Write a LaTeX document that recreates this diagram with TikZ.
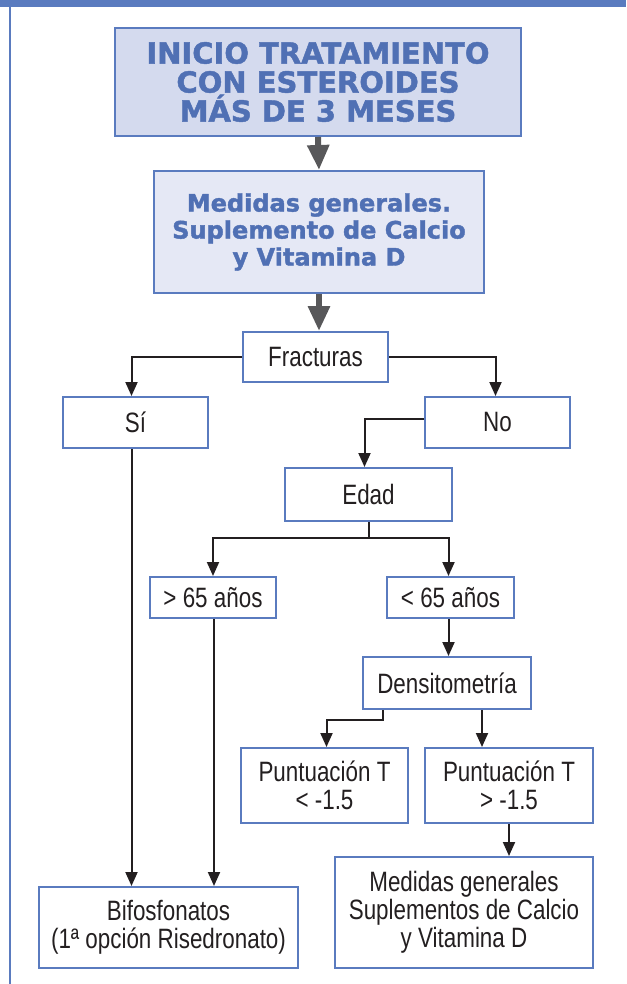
\documentclass[tikz,border=0pt]{standalone}
\usepackage{fontspec}
\setmainfont{Liberation Sans}[FakeStretch=0.80]
\newfontfamily\titulo{DejaVu Sans}[BoldFeatures={FakeBold=1.6}]
\usetikzlibrary{arrows.meta}
\definecolor{azul}{HTML}{5A7BBF}
\definecolor{textoazul}{HTML}{5070B4}
\definecolor{fondouno}{HTML}{D4DAEE}
\definecolor{fondodos}{HTML}{E5E8F5}
\definecolor{gris}{HTML}{58585A}
\definecolor{negro}{HTML}{231F20}

\begin{document}
\begin{tikzpicture}[x=0.5pt, y=-0.5pt,
  caja/.style={draw=azul, line width=1pt, fill=white, text=negro, align=center, inner sep=0pt,
    font=\fontsize{14}{14}\selectfont},
  cabecera/.style={caja, text=textoazul, font=\titulo\bfseries\fontsize{14.5}{14.5}\selectfont},
  flecha/.style={-{Triangle[length=7pt,width=6pt]}, line width=1pt, draw=negro},
  flechagris/.style={-{Triangle[length=12.5pt,width=10.5pt]}, line width=3pt, draw=gris}]
\useasboundingbox (0,0) rectangle (626,984);
% marco
\fill[azul] (0,0) rectangle (626,7);
\draw[azul, line width=1pt] (10,7) -- (10,984);
% cabeceras
\node[cabecera, fill=fondouno, minimum width=203pt, minimum height=54pt] (inicio) at (318,82)
  {INICIO TRATAMIENTO\\CON ESTEROIDES\\MÁS DE 3 MESES};
\node[cabecera, fill=fondodos, minimum width=165pt, minimum height=61pt,
  font=\titulo\bfseries\fontsize{12}{13.5}\selectfont] (medidas) at (319,232)
  {Medidas generales.\\Suplemento de Calcio\\y Vitamina D};
% decisiones
\node[caja, minimum width=72.5pt, minimum height=25pt] (fract) at (315.5,357) {Fracturas};
\node[caja, minimum width=72.5pt, minimum height=25.5pt] (si) at (135.5,422.5) {Sí};
\node[caja, minimum width=72.5pt, minimum height=25.5pt] (no) at (497.5,422.5) {No};
\node[caja, minimum width=83.5pt, minimum height=26.5pt] (edad) at (368.5,494.5) {Edad};
\node[caja, minimum width=63pt, minimum height=20.5pt] (mayor) at (213,597.5) {> 65 años};
\node[caja, minimum width=63.5pt, minimum height=20.5pt] (menor) at (450.5,597.5) {< 65 años};
\node[caja, minimum width=84pt, minimum height=26pt] (dens) at (447,683) {Densitometría};
\node[caja, minimum width=83.5pt, minimum height=37.5pt] (ptbaja) at (324.5,785.5) {Puntuación T\\< -1.5};
\node[caja, minimum width=84pt, minimum height=37.5pt] (ptalta) at (509,785.5) {Puntuación T\\> -1.5};
\node[caja, minimum width=129pt, minimum height=55.5pt] (medgen) at (464,912.5)
  {Medidas generales\\Suplementos de Calcio\\y Vitamina D};
\node[caja, minimum width=129.5pt, minimum height=40.5pt] (bifos) at (168.5,927.5)
  {Bifosfonatos\\(1ª opción Risedronato)};
% flechas
\draw[flechagris] (inicio.south) -- (medidas.north);
\draw[flechagris] (medidas.south) -- (medidas.south |- fract.north);
\draw[flecha] (fract.west) -| ([xshift=-2pt]si.north);
\draw[flecha] (fract.east) -| ([xshift=-1pt]no.north);
\draw[flecha] ([yshift=2pt]no.west) -| ([xshift=-2pt]edad.north);
\draw (edad.south) -- ++(0,16) coordinate (e1);
\draw[flecha] (edad.south) -- (e1) -| (mayor.north);
\draw[flecha] (e1) -| ([xshift=-1pt]menor.north);
\draw[flecha] ([xshift=-1pt]menor.south) -- ([xshift=-1pt]menor.south |- dens.north);
\draw[flecha] ([xshift=-32pt]dens.south) -- ++(0,10) -| ([xshift=1pt]ptbaja.north);
\draw[flecha] ([xshift=17.5pt]dens.south) -- ([xshift=17.5pt]dens.south |- ptalta.north);
\draw[flecha] (ptalta.south) -- (ptalta.south |- medgen.north);
\draw[flecha] ([xshift=-2pt]si.south) -- ([xshift=-2pt]si.south |- bifos.north);
\draw[flecha] ([xshift=0.5pt]mayor.south) -- ([xshift=0.5pt]mayor.south |- bifos.north);
\end{tikzpicture}
\end{document}
